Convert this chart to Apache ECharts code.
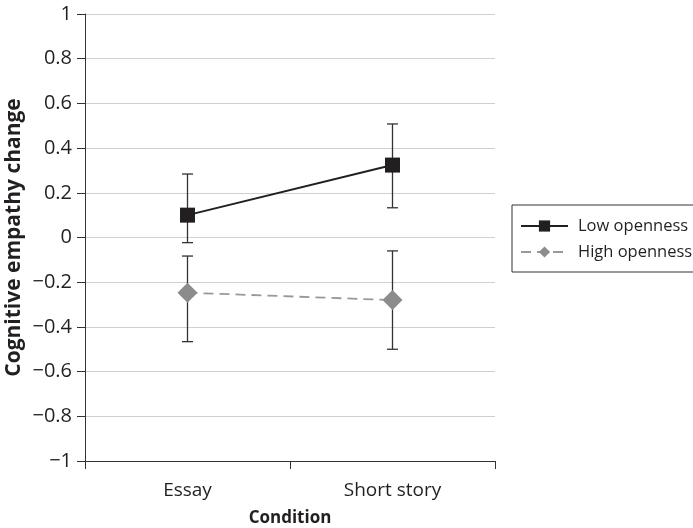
<!DOCTYPE html>
<html><head><meta charset="utf-8">
<script src="https://cdn.jsdelivr.net/npm/echarts@6/dist/echarts.min.js"></script>
<style>html,body{margin:0;padding:0;background:#fff}#c{width:693px;height:528px}</style>
</head><body><div id="c"></div>
<script>
const categories = ['Essay', 'Short story'];
const lowMean = [0.10, 0.324];
const lowUpper = [0.284, 0.508];
const lowLower = [-0.023, 0.133];
const highMean = [-0.247, -0.28];
const highUpper = [-0.083, -0.06];
const highLower = [-0.466, -0.50];
const yTicks = { min: -1, max: 1, interval: 0.2 };

const font = 'Open Sans';
function fmt(v){ const r = Math.round(v*10)/10; if (r === 0) return '0'; return (r<0?'\u2212':'') + String(Math.abs(r)); }

function errSeries(upper, lower, name){
  return {
    type: 'custom', name: name + ' err', silent: true, z: 1,
    data: categories.map((c,i)=>[i, lower[i], upper[i]]),
    renderItem: function(params, api){
      const x = api.value(0);
      const lo = api.coord([x, api.value(1)]);
      const hi = api.coord([x, api.value(2)]);
      const w = 5.5;
      const st = { stroke: '#333', lineWidth: 1.3 };
      return { type: 'group', children: [
        { type: 'line', shape: { x1: lo[0], y1: lo[1], x2: hi[0], y2: hi[1] }, style: st },
        { type: 'line', shape: { x1: lo[0]-w, y1: lo[1], x2: lo[0]+w, y2: lo[1] }, style: st },
        { type: 'line', shape: { x1: hi[0]-w, y1: hi[1], x2: hi[0]+w, y2: hi[1] }, style: st }
      ]};
    }
  };
}

const chart = echarts.init(document.getElementById('c'));
chart.setOption({
  animation: false,
  textStyle: { fontFamily: font },
  grid: { left: 85, right: 198, top: 14, bottom: 67, containLabel: false, outerBoundsMode: 'none' },
  legend: {
    orient: 'vertical', left: 512, top: 205,
    padding: [11, 10, 10, 8], itemGap: 6,
    itemWidth: 47, itemHeight: 14,
    borderColor: '#333', borderWidth: 1,
    textStyle: { fontFamily: font, fontSize: 16.5, color: '#231f20', padding: [0, 0, 0, 5], lineHeight: 20 },
    data: ['Low openness', 'High openness']
  },
  xAxis: {
    type: 'category', data: categories, boundaryGap: true,
    name: 'Condition', nameLocation: 'middle', nameGap: 49,
    nameTextStyle: { fontFamily: font, fontSize: 17, fontWeight: 'bold', color: '#231f20' },
    axisLine: { onZero: false, lineStyle: { color: '#333', width: 1 } },
    axisTick: { show: true, length: 8, lineStyle: { color: '#333' }, alignWithLabel: false },
    axisLabel: { fontFamily: font, fontSize: 19, color: '#231f20', margin: 20 }
  },
  yAxis: {
    type: 'value', min: yTicks.min, max: yTicks.max, interval: yTicks.interval,
    name: 'Cognitive empathy change', nameLocation: 'middle', nameGap: 60, nameMoveOverlap: false,
    nameTextStyle: { fontFamily: font, fontSize: 21, fontWeight: 'bold', color: '#231f20' },
    axisLine: { show: true, lineStyle: { color: '#333', width: 1 } },
    axisTick: { show: true, length: 8, lineStyle: { color: '#333' } },
    axisLabel: { fontFamily: font, fontSize: 20, color: '#231f20', margin: 13, formatter: fmt },
    splitLine: { show: true, lineStyle: { color: '#d0d0d0', width: 1 } }
  },
  series: [
    errSeries(lowUpper, lowLower, 'Low openness'),
    errSeries(highUpper, highLower, 'High openness'),
    {
      name: 'Low openness', type: 'line', data: lowMean, z: 3,
      symbol: 'rect', symbolSize: 15,
      itemStyle: { color: '#231f20' },
      lineStyle: { color: '#231f20', width: 2, type: 'solid' }
    },
    {
      name: 'High openness', type: 'line', data: highMean, z: 3,
      symbol: 'diamond', symbolSize: 20,
      itemStyle: { color: '#8c8c8c' },
      lineStyle: { color: '#999', width: 1.8, type: [10, 6] }
    }
  ]
});
</script></body></html>
